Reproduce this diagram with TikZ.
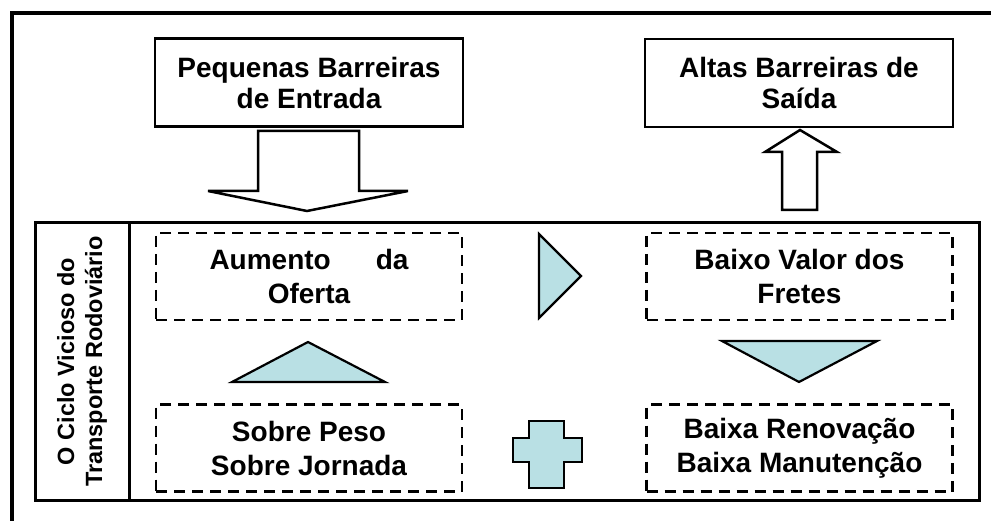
\documentclass[tikz,border=0pt]{standalone}
\usepackage{fontspec}
\setmainfont{Liberation Sans}
\definecolor{agua}{RGB}{185,224,228}

\begin{document}
\begin{tikzpicture}[x=1pt,y=-1pt,
  caixa/.style={draw,line width=2.5pt,minimum width=308pt,minimum height=88pt,align=center,inner sep=0pt,font=\fontsize{28}{31}\selectfont\bfseries},
  tracejada/.style={draw,line width=2.2pt,dash pattern=on 11pt off 7pt,minimum width=306pt,minimum height=87pt,align=center,inner sep=0pt,font=\fontsize{28}{34}\selectfont\bfseries},
  seta/.style={draw,line width=2.5pt,fill=white,line join=miter},
  forma/.style={draw,line width=2.2pt,fill=agua,line join=miter}]
\useasboundingbox (0,0) rectangle (991,521);
\draw [line width=3.5pt] (12,521)--(12,13)--(991,13);

\node [caixa] (entrada) at (309,82.5) {Pequenas Barreiras\\de Entrada};
\node [caixa] (saida) at (799,83) {Altas Barreiras de\\Sa\'ida};

\node [draw,line width=3pt,minimum width=944pt,minimum height=277pt] (ciclo) at (507,361.5) {};
\node [draw,line width=3pt,minimum width=277pt,minimum height=94pt,rotate=90,align=center,inner sep=0pt,font=\fontsize{23.5}{28}\selectfont\bfseries] (rotulo) at (82,361.5) {O Ciclo Vicioso do\\Transporte Rodovi\'ario};

\node [tracejada,text width=199pt] (aumento) at (309,276.5) {Aumento\hfill da\\Oferta};
\node [tracejada] (fretes) at (799.5,276.5) {Baixo Valor dos\\Fretes};
\node [tracejada] (sobre) at (309,448) {Sobre Peso\\Sobre Jornada};
\node [tracejada] (baixa) at (799.5,448) {Baixa Renova\c{c}\~ao\\Baixa Manuten\c{c}\~ao};

\draw [seta] (258,131)--(359,131)--(359,191)--(408,191)--(307,211)--(208,191)--(258,191)--cycle;
\draw [seta] (782,210)--(817,210)--(817,152)--(837,152)--(800,130)--(765,152)--(782,152)--cycle;

\draw [forma] (539,234)--(581,276)--(539,318)--cycle;
\draw [forma] (722,341)--(877,341)--(799,382)--cycle;
\draw [forma] (232,382)--(385,382)--(308,342)--cycle;
\draw [forma] (529,421)--(564,421)--(564,438)--(582,438)--(582,462)--(564,462)--(564,488)--(529,488)--(529,462)--(513,462)--(513,438)--(529,438)--cycle;

\end{tikzpicture}
\end{document}
